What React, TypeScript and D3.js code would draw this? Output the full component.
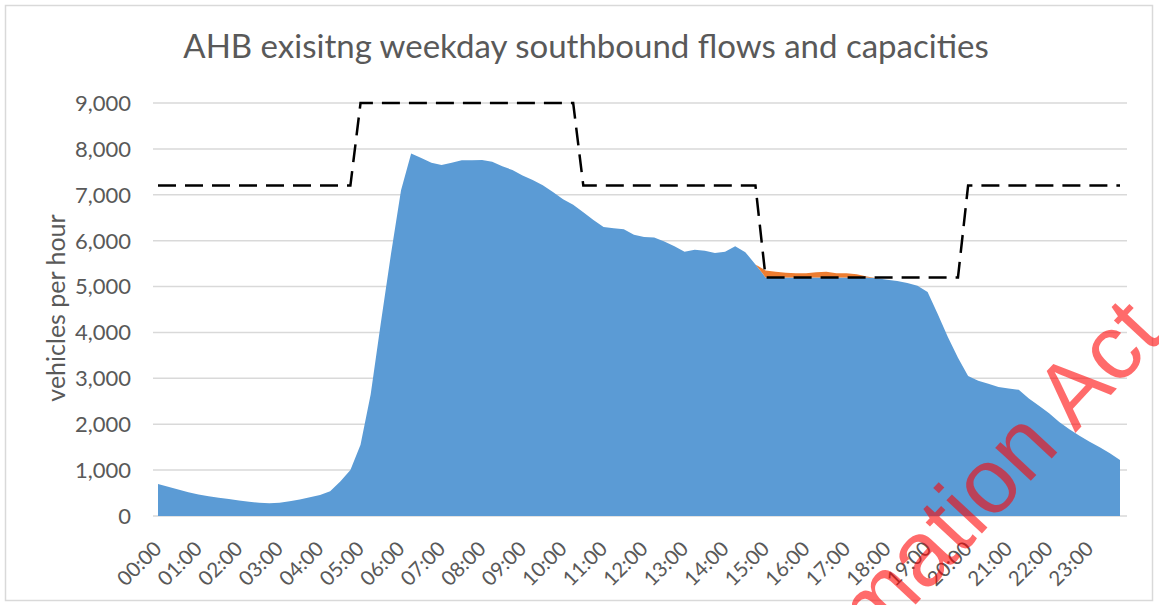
import React from "react";
import * as d3 from "d3";

const W = 1159;
const H = 605;

const hourLabels = [
  "00:00","01:00","02:00","03:00","04:00","05:00","06:00","07:00","08:00","09:00","10:00","11:00",
  "12:00","13:00","14:00","15:00","16:00","17:00","18:00","19:00","20:00","21:00","22:00","23:00",
];

// 15-minute flows, 00:00 .. 23:45 (vehicles per hour)
const flows = [
  700, 640, 580, 520, 470, 430, 400, 370,
  340, 310, 290, 280, 290, 320, 360, 410,
  460, 540, 750, 1000, 1550, 2650, 4200, 5700,
  7100, 7900, 7800, 7700, 7650, 7700, 7750, 7750,
  7760, 7720, 7620, 7540, 7420, 7320, 7210, 7060,
  6900, 6780, 6620, 6450, 6300, 6270, 6250, 6130,
  6080, 6070, 5980, 5880, 5760, 5800, 5780, 5730,
  5760, 5880, 5750, 5480, 5350, 5320, 5300, 5290,
  5290, 5310, 5320, 5290, 5290, 5270, 5220, 5180,
  5150, 5120, 5080, 5020, 4880, 4400, 3900, 3450,
  3050, 2950, 2880, 2810, 2780, 2750, 2560, 2400,
  2240, 2050, 1890, 1750, 1620, 1500, 1370, 1220,
];

// capacity steps: value applies from the given time onwards
const capacityFrom = ["00:00", "05:00", "10:30", "15:00", "20:00"];
const capacityValues = [7200, 9000, 7200, 5200, 7200];

const yTicks = [0, 1000, 2000, 3000, 4000, 5000, 6000, 7000, 8000, 9000];

const times = d3.range(96).map((i) => {
  const h = Math.floor(i / 4);
  const m = (i % 4) * 15;
  return `${String(h).padStart(2, "0")}:${String(m).padStart(2, "0")}`;
});

const capacityAt = (t: string) => {
  let v = capacityValues[0];
  capacityFrom.forEach((f, k) => {
    if (t >= f) v = capacityValues[k];
  });
  return v;
};

const rows = times.map((t, i) => {
  const cap = capacityAt(t);
  const f = flows[i];
  return { t, flow: f, cap, within: Math.min(f, cap) };
});

const FONT = "Lato, 'Open Sans', sans-serif";
const TXT = "#595959";

export default function App() {
  const x = d3.scalePoint<string>().domain(times).range([158, 1120]);
  const y = d3.scaleLinear().domain([0, 9000]).range([516, 103]);

  const blueArea = d3
    .area<(typeof rows)[number]>()
    .x((d) => x(d.t)!)
    .y0(y(0))
    .y1((d) => y(d.within));

  const orangeArea = d3
    .area<(typeof rows)[number]>()
    .x((d) => x(d.t)!)
    .y0((d) => y(d.within))
    .y1((d) => y(d.flow));

  const capLine = d3
    .line<(typeof rows)[number]>()
    .x((d) => x(d.t)!)
    .y((d) => y(d.cap));

  return (
    <svg
      width={W}
      height={H}
      style={{ position: "absolute", left: 0, top: 0, background: "#fff" }}
      fontFamily={FONT}
    >
      <rect x={5.5} y={5.5} width={1147} height={595} fill="#fff" stroke="#d9d9d9" strokeWidth={1.5} />

      <text x={586} y={58} textAnchor="middle" fontSize={33} fill={TXT}>
        AHB exisitng weekday southbound  flows and capacities
      </text>

      {yTicks.map((v) => (
        <g key={v}>
          <line x1={153} x2={1127} y1={y(v)} y2={y(v)} stroke="#d9d9d9" strokeWidth={1.5} />
          <text x={131} y={y(v)} dy="0.36em" textAnchor="end" fontSize={22} fill={TXT}>
            {d3.format(",")(v)}
          </text>
        </g>
      ))}

      <text transform="translate(65,308) rotate(-90)" textAnchor="middle" fontSize={25} fill={TXT}>
        vehicles per hour
      </text>

      <path d={blueArea(rows)!} fill="#5B9BD5" />
      <path d={orangeArea(rows)!} fill="#ED7D31" />
      <path d={capLine(rows)!} fill="none" stroke="#000" strokeWidth={2.5} strokeDasharray="18 9" />

      {hourLabels.map((h) => (
        <text
          key={h}
          transform={`translate(${x(h)! + 5},550) rotate(-45)`}
          textAnchor="end"
          fontSize={20.5}
          fill={TXT}
        >
          {h}
        </text>
      ))}

      <text
        transform="translate(1166,336) rotate(-47)"
        textAnchor="end"
        fontSize={92}
        fontFamily="'Liberation Sans', Arial, sans-serif"
        fill="#ff0000"
        fillOpacity={0.58}
      >
        Released under the Official Information Act
      </text>
    </svg>
  );
}
